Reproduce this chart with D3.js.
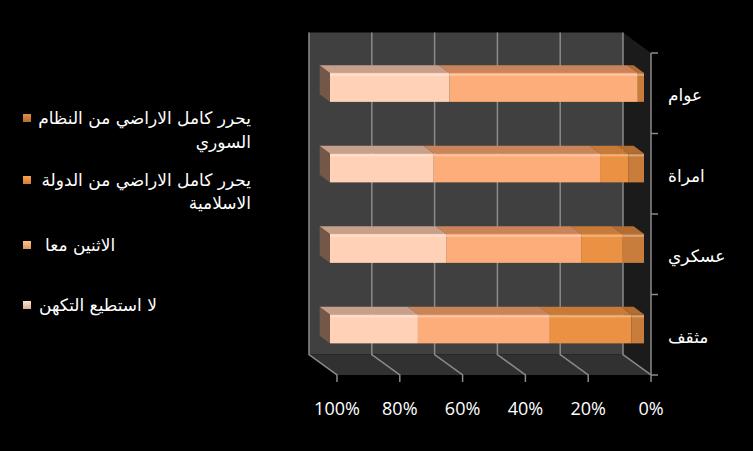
<!DOCTYPE html>
<html><head><meta charset="utf-8">
<script src="https://cdn.jsdelivr.net/npm/d3@7"></script>
<style>html,body{margin:0;padding:0;background:#000;}svg{display:block;}</style>
</head><body>
<script>
// ---- data ----
const categories = ["عوام", "امراة", "عسكري", "مثقف"];
const seriesNames = [
  ["يحرر كامل الاراضي من النظام", "السوري"],
  ["يحرر كامل الاراضي من الدولة", "الاسلامية"],
  ["الاثنين معا"],
  ["لا استطيع التكهن"]
];
const regimeVals   = [2, 5, 7, 4];
const stateVals    = [0, 9, 13, 26];
const bothVals     = [60, 53, 43, 42];
const unknownVals  = [38, 33, 37, 28];
const tickValues = [0, 0.2, 0.4, 0.6, 0.8, 1];

const seriesValues = [regimeVals, stateVals, bothVals, unknownVals];
const frontColors = ["#c97d3c", "#ea9143", "#fcad79", "#ffd1b6"];
const topColors   = ["#b26d33", "#c87a38", "#c9845a", "#c7a08b"];
const legendColors = ["#c47a3b", "#e48d40", "#f6a872", "#ecc3ae"];

const W = 753, H = 451;
const svg = d3.select("body").append("svg").attr("width", W).attr("height", H);
svg.append("rect").attr("width", W).attr("height", H).attr("fill", "#000");

// front plane scales
const x = d3.scaleLinear().domain([0, 1]).range([651, 337]);
const y = d3.scaleBand().domain(categories).range([53, 375]);
const DX = -28, DY = -20.5;
const P = (v, yy, d) => [x(v) + DX * d, yy + DY * d];
const pts = arr => arr.map(p => p.join(",")).join(" ");

const yTop = y.range()[0], yBot = y.range()[1];
// back wall
svg.append("polygon").attr("points", pts([P(1, yTop, 1), P(0, yTop, 1), P(0, yBot, 1), P(1, yBot, 1)]))
  .attr("fill", "#404040");
// side wall (right)
svg.append("polygon").attr("points", pts([P(0, yTop, 1), P(0, yTop, 0), P(0, yBot, 0), P(0, yBot, 1)]))
  .attr("fill", "#1b1b1b");
// floor
svg.append("polygon").attr("points", pts([P(1, yBot, 1), P(0, yBot, 1), P(0, yBot, 0), P(1, yBot, 0)]))
  .attr("fill", "#313131");

// gridlines
const grid = svg.append("g").attr("stroke", "#8a8a8a").attr("stroke-width", 1.5).attr("fill", "none");
tickValues.forEach(t => {
  const b1 = P(t, yTop, 1), b2 = P(t, yBot, 1), f = P(t, yBot, 0);
  grid.append("polyline").attr("points", pts([b1, b2, f, [f[0], f[1] + 7]]));
});

// right (category) axis
const ax = svg.append("g").attr("stroke", "#8a8a8a").attr("stroke-width", 1.5);
ax.append("line").attr("x1", x(0)).attr("x2", x(0)).attr("y1", yTop).attr("y2", yBot);
const catTicks = categories.map(c => y(c)).concat([yBot]);
catTicks.forEach(t => ax.append("line").attr("x1", x(0)).attr("x2", x(0) + 7).attr("y1", t).attr("y2", t));

// x tick labels
svg.append("g").selectAll("text").data(tickValues).join("text")
  .attr("x", d => x(d)).attr("y", 415)
  .attr("text-anchor", "middle").attr("fill", "#fff")
  .attr("font-family", "'Open Sans', sans-serif").attr("font-size", 18)
  .text(d => d3.format(".0%")(d));

// category labels
svg.append("g").selectAll("text").data(categories).join("text")
  .attr("x", 668).attr("y", d => y(d) + y.bandwidth() / 2 + 8)
  .attr("text-anchor", "start").attr("fill", "#fff")
  .attr("font-family", "'DejaVu Sans', sans-serif").attr("font-size", 17)
  .text(d => d);

// bars
const dF = 0.25, dB = 0.62, barOff = 25, barH = 29;
const bars = svg.append("g");
categories.forEach((c, i) => {
  const yt = y(c) + barOff, yb = yt + barH;
  const g = bars.append("g");
  g.append("polygon").attr("points", pts([P(1, yt, dB), P(1, yt, dF), P(1, yb, dF), P(1, yb, dB)]))
    .attr("fill", "#735748");
  let cum = 0;
  const segs = seriesValues.map((arr, s) => {
    const a = cum / 100; cum += arr[i]; const b = cum / 100;
    return { s, a, b };
  });
  segs.forEach(({ s, a, b }) => {
    if (b - a <= 0) return;
    g.append("polygon").attr("points", pts([P(a, yt, dF), P(b, yt, dF), P(b, yt, dB), P(a, yt, dB)]))
      .attr("fill", topColors[s]);
  });
  segs.forEach(({ s, a, b }) => {
    if (b - a <= 0) return;
    const p0 = P(b, yt, dF), p1 = P(a, yb, dF);
    g.append("rect").attr("x", p0[0]).attr("y", p0[1]).attr("width", p1[0] - p0[0]).attr("height", p1[1] - p0[1])
      .attr("fill", frontColors[s]);
    g.append("rect").attr("x", p0[0]).attr("y", p0[1] + 1).attr("width", p1[0] - p0[0]).attr("height", 2)
      .attr("fill", "#fff").attr("opacity", 0.3);
  });
});

// legend
const legendY = [[118, 142], [180, 203], [245], [305]];
const lg = svg.append("g");
const defs = svg.append("defs");
legendColors.forEach((col, s) => {
  const gid = "lg" + s;
  const grad = defs.append("linearGradient").attr("id", gid).attr("x1", 0).attr("y1", 0).attr("x2", 0).attr("y2", 1);
  grad.append("stop").attr("offset", 0).attr("stop-color", d3.color(col).brighter(0.4));
  grad.append("stop").attr("offset", 1).attr("stop-color", d3.color(col).darker(0.3));
  lg.append("rect").attr("x", 23).attr("y", legendY[s][0] - 4).attr("width", 8).attr("height", 8)
    .attr("fill", `url(#${gid})`);
});
const legendX = [[251, "end"], [251, "end"], [45, "start"], [39, "start"]];
seriesNames.forEach((lines, s) => {
  lines.forEach((ln, k) => {
    lg.append("text").attr("x", legendX[s][0]).attr("y", legendY[s][k] + 6)
      .attr("text-anchor", legendX[s][1]).attr("fill", "#fff")
      .attr("font-family", "'DejaVu Sans', sans-serif").attr("font-size", 17)
      .text(ln);
  });
});
</script>
</body></html>
